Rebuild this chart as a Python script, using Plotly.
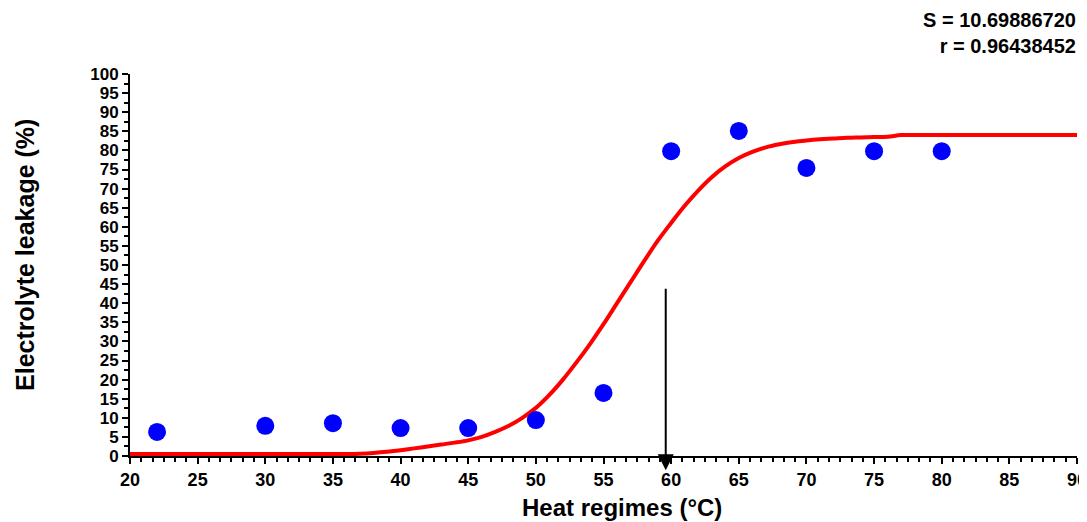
import plotly.graph_objects as go

# Observed data points
temps = [22, 30, 35, 40, 45, 50, 55, 60, 65, 70, 75, 80]
leakage = [6.3, 7.9, 8.6, 7.3, 7.3, 9.4, 16.5, 79.8, 85.1, 75.4, 79.8, 79.8]

# Fitted curve
curve_x = list(range(20, 91))
curve_y = ([0.5] * 17 +  # 20..36
           [0.6, 0.8, 1.1, 1.5, 2.0, 2.5, 3.0, 3.5, 4.1, 5.0, 6.3, 7.9, 10.0,
            12.6, 16.0, 20.0, 24.5, 29.3, 34.5, 40.0, 45.5, 51.0, 56.3, 61.0,
            65.5, 69.5, 73.0, 75.8, 78.0, 79.6, 80.8, 81.6, 82.2, 82.6, 82.9,
            83.1, 83.3, 83.4, 83.5, 83.6] +  # 37..76
           [84.0] * 14)  # 77..90

# Arrow marking LT50
arrow_x = 59.6
arrow_top = 44.2
arrow_tip = -3.7

stat_lines = ["S = 10.69886720", "r = 0.96438452"]
x_title = "Heat regimes (°C)"
y_title = "Electrolyte leakage (%)"

FONT = "Arial, Liberation Sans, sans-serif"

fig = go.Figure()
fig.add_trace(go.Scatter(x=curve_x, y=curve_y, mode="lines",
                         line=dict(color="#FF0000", width=4, shape="spline"),
                         hoverinfo="skip", showlegend=False))
fig.add_trace(go.Scatter(x=temps, y=leakage, mode="markers",
                         marker=dict(color="#0000FF", size=18, symbol="circle",
                                     line=dict(width=0)),
                         showlegend=False, cliponaxis=False))

fig.add_annotation(x=arrow_x, y=arrow_tip, ax=arrow_x, ay=arrow_top,
                   xref="x", yref="y", axref="x", ayref="y",
                   text="", showarrow=True, arrowhead=2, arrowsize=1.6,
                   arrowwidth=2, arrowcolor="black")

fig.add_annotation(x=1.001, y=1.0, xref="paper", yref="paper",
                   xanchor="right", yanchor="bottom", align="right",
                   text="<br>".join(stat_lines), showarrow=False, yshift=15,
                   font=dict(family=FONT, size=20, color="black", weight="bold"))

fig.add_annotation(x=0.52, y=0, xref="paper", yref="paper",
                   xanchor="center", yanchor="middle", yshift=-51,
                   text=x_title, showarrow=False,
                   font=dict(family=FONT, size=24, color="black", weight="bold"))
fig.add_annotation(x=-0.111, y=0.526, xref="paper", yref="paper",
                   xanchor="center", yanchor="middle", textangle=-90,
                   text=y_title, showarrow=False,
                   font=dict(family=FONT, size=25, color="black", weight="bold"))

fig.update_layout(
    width=1087, height=522,
    margin=dict(l=122, r=18, t=66, b=74),
    paper_bgcolor="white", plot_bgcolor="white",
    font=dict(family=FONT, color="black"),
)
fig.update_xaxes(
    range=[20, 90], tick0=20, dtick=5, showgrid=False, zeroline=False,
    showline=True, linecolor="black", linewidth=2, automargin=False,
    ticks="outside", ticklen=6, tickwidth=2, tickcolor="black",
    tickfont=dict(family=FONT, size=18, color="black", weight="bold"),
    minor=dict(dtick=5/6, tick0=20, ticks="outside", ticklen=4, tickwidth=1.5,
               tickcolor="black", showgrid=False),
)
fig.update_yaxes(
    range=[0, 100], tick0=0, dtick=5, showgrid=False, zeroline=False,
    showline=True, linecolor="black", linewidth=2, automargin=False,
    ticks="outside", ticklen=6, tickwidth=2, tickcolor="black",
    tickfont=dict(family=FONT, size=17, color="black", weight="bold"),
    minor=dict(dtick=2.5, tick0=0, ticks="outside", ticklen=4, tickwidth=1.5,
               tickcolor="black", showgrid=False),
)

fig.write_html("out.html")
